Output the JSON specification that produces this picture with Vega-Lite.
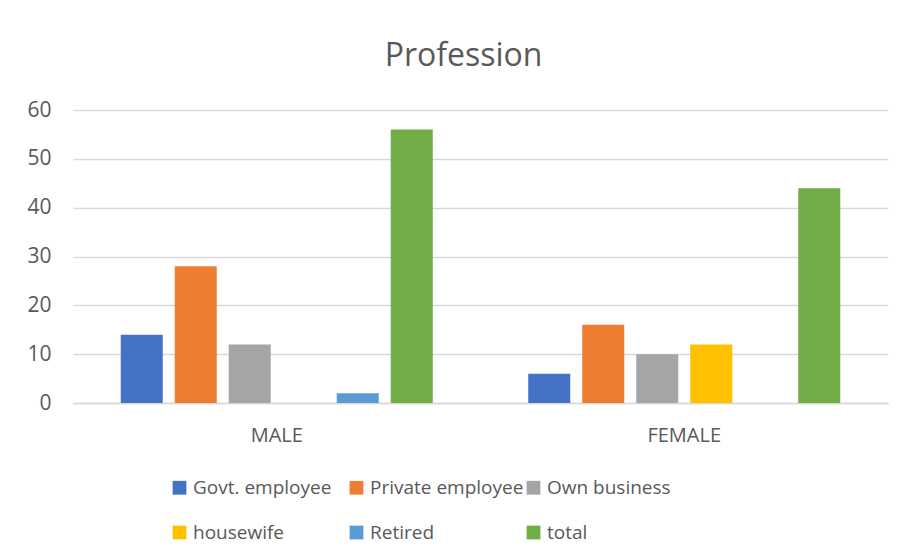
{
  "$schema": "https://vega.github.io/schema/vega-lite/v6.json",
  "autosize": "none",
  "padding": {"left": 73, "top": 110, "right": 15, "bottom": 157},
  "width": 815,
  "height": 293,
  "background": "white",
  "title": {"text": "Profession", "fontSize": 32, "font": "Open Sans", "fontWeight": "normal", "color": "#595959", "anchor": "middle", "dx": -17, "offset": 26},
  "data": {"values": [
    {"gender": "MALE", "profession": "Govt. employee", "count": 14},
    {"gender": "MALE", "profession": "Private employee", "count": 28},
    {"gender": "MALE", "profession": "Own business", "count": 12},
    {"gender": "MALE", "profession": "housewife", "count": 0},
    {"gender": "MALE", "profession": "Retired", "count": 2},
    {"gender": "MALE", "profession": "total", "count": 56},
    {"gender": "FEMALE", "profession": "Govt. employee", "count": 6},
    {"gender": "FEMALE", "profession": "Private employee", "count": 16},
    {"gender": "FEMALE", "profession": "Own business", "count": 10},
    {"gender": "FEMALE", "profession": "housewife", "count": 12},
    {"gender": "FEMALE", "profession": "Retired", "count": 0},
    {"gender": "FEMALE", "profession": "total", "count": 44}
  ]},
  "mark": {"type": "bar"},
  "encoding": {
    "x": {"field": "gender", "type": "nominal", "sort": ["MALE", "FEMALE"],
      "scale": {"paddingInner": 0, "paddingOuter": 0},
      "axis": {"title": null, "labelAngle": 0, "ticks": false, "domainColor": "#d9d9d9", "domainWidth": 1.5, "labelFont": "Open Sans", "labelFontSize": 20, "labelColor": "#595959", "labelPadding": 22}},
    "xOffset": {"field": "profession", "type": "nominal",
      "sort": ["Govt. employee", "Private employee", "Own business", "housewife", "Retired", "total"],
      "scale": {"paddingInner": 0.222, "paddingOuter": 0.884}},
    "y": {"field": "count", "type": "quantitative",
      "scale": {"domain": [0, 60]},
      "axis": {"title": null, "values": [0, 10, 20, 30, 40, 50, 60], "labelOverlap": false, "domain": false, "ticks": false, "gridColor": "#d9d9d9", "gridWidth": 1.5, "labelFont": "Open Sans", "labelFontSize": 21, "labelColor": "#595959", "labelPadding": 22}},
    "color": {"field": "profession", "type": "nominal",
      "sort": ["Govt. employee", "Private employee", "Own business", "housewife", "Retired", "total"],
      "scale": {"domain": ["Govt. employee", "Private employee", "Own business", "housewife", "Retired", "total"],
        "range": ["#4472C4", "#ED7D31", "#A5A5A5", "#FFC000", "#5B9BD5", "#70AD47"]},
      "legend": {"title": null, "orient": "none", "legendX": 97, "legendY": 368, "direction": "horizontal", "columns": 3, "gridAlign": "all", "columnPadding": -16, "rowPadding": 25, "symbolType": "square", "symbolSize": 190, "symbolStrokeWidth": 0, "labelFont": "Open Sans", "labelFontSize": 19, "labelColor": "#595959", "labelOffset": 4, "labelLimit": 300}}
  },
  "config": {"view": {"stroke": null}}
}
